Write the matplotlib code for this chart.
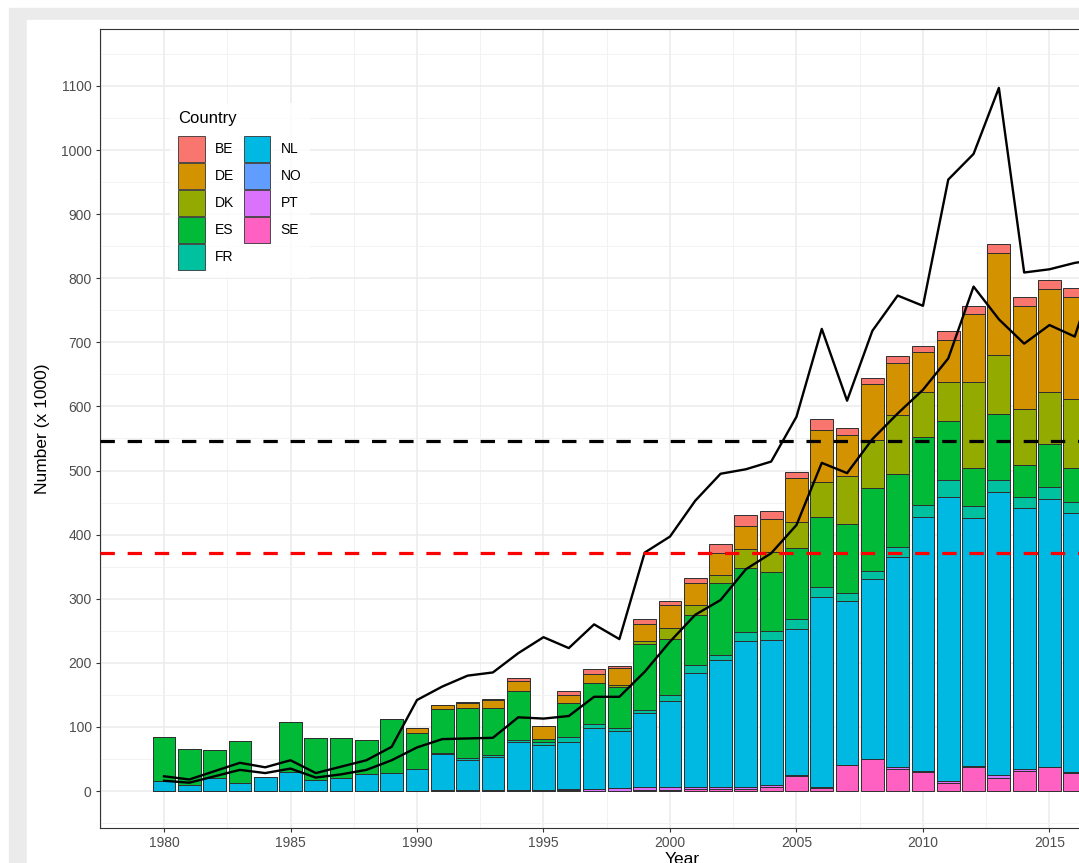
import numpy as np
import matplotlib.pyplot as plt
from matplotlib.patches import Rectangle, Patch
from matplotlib.ticker import MultipleLocator

plt.rcParams['font.family'] = ['Liberation Sans', 'DejaVu Sans']

years = np.arange(1980, 2017)
countries = ['BE', 'DE', 'DK', 'ES', 'FR', 'NL', 'NO', 'PT', 'SE']
colors = ['#F8766D', '#D39200', '#93AA00', '#00BA38', '#00C19F',
          '#00B9E3', '#619CFF', '#DB72FB', '#FF61C3']

# numbers (x 1000) per country, 1980-2016
be = [0, 0, 0, 0, 0, 0, 0, 0, 0, 0, 0, 0, 1, 1, 4, 0, 6, 8, 3, 9,
      7, 8, 14, 16, 13, 9, 16, 11, 10, 11, 10, 13, 12, 14, 14, 13, 15]
de = [0, 0, 0, 0, 0, 0, 0, 0, 0, 0, 8, 6, 9, 13, 16, 21, 12, 14, 26, 26,
      36, 34, 35, 36, 51, 69, 82, 64, 88, 82, 62, 66, 106, 160, 160, 161, 159]
dk = [0, 0, 0, 0, 0, 0, 0, 0, 0, 0, 0, 0, 0, 0, 0, 0, 0, 0, 3, 4,
      17, 15, 12, 30, 32, 40, 54, 75, 75, 91, 71, 61, 134, 91, 87, 82, 107]
es = [70, 56, 44, 65, 0, 77, 65, 62, 54, 84, 56, 68, 77, 73, 76, 5, 53, 64, 64, 103,
      87, 79, 113, 100, 92, 111, 110, 107, 128, 115, 106, 91, 59, 103, 51, 67, 53]
fr = [0, 0, 0, 0, 0, 0, 0, 1, 0, 0, 0, 2, 3, 3, 4, 4, 8, 7, 5, 6,
      9, 12, 8, 14, 13, 15, 15, 13, 13, 15, 19, 27, 19, 19, 16, 18, 18]
nl = [15, 10, 20, 13, 22, 30, 17, 20, 26, 28, 34, 56, 48, 51, 74, 70, 74, 95, 90, 114,
      135, 178, 198, 228, 227, 228, 296, 256, 281, 328, 396, 444, 387, 442, 408, 418, 403]
no = [0] * 37
pt = [0, 0, 0, 0, 0, 0, 0, 0, 0, 0, 0, 2, 1, 2, 2, 2, 2, 3, 4, 5,
      4, 3, 3, 3, 2, 1, 2, 0, 0, 2, 1, 3, 1, 5, 3, 1, 2]
se = [0, 0, 0, 0, 0, 0, 0, 0, 0, 0, 0, 0, 0, 0, 0, 0, 1, 0, 0, 2,
      2, 3, 3, 3, 7, 24, 5, 40, 50, 35, 30, 12, 38, 20, 31, 37, 28]

# the two black lines, 1980-2017
line_years = np.arange(1980, 2018)
upper = [23, 18, 31, 44, 37, 48, 28, 38, 48, 69, 142, 163, 180, 185, 215, 240, 223, 260, 237, 372,
         397, 453, 495, 502, 514, 584, 721, 609, 718, 773, 757, 954, 994, 1097, 809, 814, 824, 830]
lower = [16, 13, 23, 33, 28, 35, 21, 26, 33, 48, 68, 81, 82, 83, 115, 113, 117, 147, 147, 186,
         233, 275, 298, 346, 371, 415, 512, 496, 549, 589, 626, 675, 787, 736, 698, 727, 709, 830]

ref_black = 546
ref_red = 371

W, H = 1079, 863
fig = plt.figure(figsize=(W / 100, H / 100), dpi=100)
fig.patches.append(Rectangle((9 / W, 0), 1, (H - 8) / H, transform=fig.transFigure,
                             color='#ebebeb', zorder=-10))
fig.patches.append(Rectangle((27 / W, 0), 1, (H - 20) / H, transform=fig.transFigure,
                             color='white', zorder=-9))

ax = fig.add_axes([100 / W, 35 / H, 1164 / W, 799 / H])

series = dict(zip(countries, [be, de, dk, es, fr, nl, no, pt, se]))
bottom = np.zeros(len(years))
for c, col in reversed(list(zip(countries, colors))):
    vals = np.array(series[c], dtype=float)
    ax.bar(years, vals, bottom=bottom, width=0.9, color=col,
           edgecolor='#2e2e2e', linewidth=0.7, zorder=2)
    bottom += vals

ax.plot(line_years, upper, color='black', lw=1.7, zorder=3)
ax.plot(line_years, lower, color='black', lw=1.7, zorder=3)
ax.axhline(ref_black, color='black', lw=2.3, dashes=(4.5, 4), zorder=4)
ax.axhline(ref_red, color='red', lw=2.3, dashes=(4.5, 4), zorder=4)

ax.set_xlim(1977.47, 2023.48)
ax.set_ylim(-57.7, 1188.9)
ax.xaxis.set_major_locator(MultipleLocator(5))
ax.xaxis.set_minor_locator(MultipleLocator(2.5))
ax.yaxis.set_major_locator(MultipleLocator(100))
ax.yaxis.set_minor_locator(MultipleLocator(50))
ax.set_axisbelow(True)
ax.grid(which='major', color='#ebebeb', lw=1.1)
ax.grid(which='minor', color='#f2f2f2', lw=0.7)
ax.tick_params(which='major', length=3, width=0.8, color='#333333',
               labelcolor='#4d4d4d', labelsize=10, pad=3)
ax.tick_params(which='minor', length=0)
for s in ax.spines.values():
    s.set_color('#333333')
    s.set_linewidth(0.8)

ax.set_ylabel('Number (x 1000)', fontsize=12.5, color='black')
ax.yaxis.set_label_coords(-0.043, 0.5)
ax.set_xlabel('Year', fontsize=12.5, color='black', labelpad=1)

handles = [Patch(facecolor=col, edgecolor='#333333', linewidth=0.6) for col in colors]
leg = ax.legend(handles, countries, title='Country', ncol=2, loc='upper left',
                bbox_to_anchor=(0.06, 0.908), borderaxespad=0, frameon=True,
                fontsize=10, title_fontsize=12, handlelength=1.9, handleheight=2.5,
                labelspacing=0.07, handletextpad=0.75, columnspacing=0.7,
                borderpad=0.6, fancybox=False)
leg.get_frame().set_edgecolor('white')
leg.get_frame().set_linewidth(0)
leg._legend_box.align = 'left'
leg._legend_box.sep = 7.5   # gap between title and keys

fig.savefig('out.png', dpi=100)
